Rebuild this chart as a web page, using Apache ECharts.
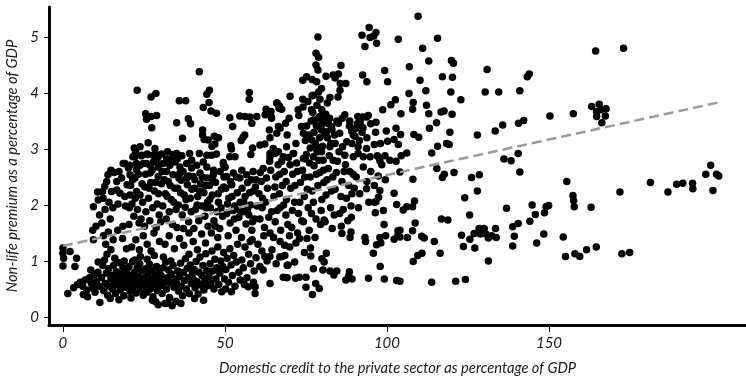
<!DOCTYPE html>
<html>
<head>
<meta charset="utf-8">
<script src="https://cdn.jsdelivr.net/npm/echarts@6/dist/echarts.min.js"></script>
<style>
html,body{margin:0;padding:0;background:#fff;}
#chart{width:746px;height:381px;}
</style>
</head>
<body>
<div id="chart"></div>
<script>
const xTicks = [0, 50, 100, 150];
const yTicks = [0, 1, 2, 3, 4, 5];

// low-premium band, credit 0-75
const lowBand = [
[0,1.23],[0,1.14],[0.2,1.05],[0,0.91],[2.2,1.17],[4.2,1.05],[3.7,0.9],[1.5,0.42],[4.5,0.58],[3.3,0.52],
[5.4,0.62],[6.1,0.55],[6.9,0.66],[7.4,0.48],[8.2,0.7],[8.8,0.6],[9.3,0.52],[9.7,0.75],[6.3,0.4],[8.6,0.84],[7.6,0.36],[9.9,0.44],
[10.3,0.63],[10.8,0.8],[11.2,0.55],[11.4,0.26],[11.9,0.7],[12.3,0.92],[12.6,0.47],[13.1,0.6],[13.4,0.78],[13.8,0.39],[14.1,0.86],[14.4,0.55],[14.8,0.68],[10.9,0.98],[12.8,1.02],[14.6,0.33],
[15.1,0.74],[15.3,0.5],[15.6,0.92],[15.9,0.62],[16.2,0.42],[16.5,0.81],[16.8,0.57],[17.1,0.69],[17.4,0.97],[17.7,0.48],[18,0.76],[18.3,0.6],[18.5,0.88],[18.8,0.38],[19.1,0.66],[19.4,0.53],[19.7,0.82],[19.9,0.71],[16,1.05],[18.9,1.0],[17.3,0.31],
[20.2,0.58],[20.4,0.9],[20.7,0.46],[20.9,0.74],[21.2,0.63],[21.5,0.99],[21.8,0.54],[22.1,0.8],[22.3,0.67],[22.6,0.43],[22.9,0.88],[23.2,0.59],[23.4,0.72],[23.7,0.95],[24,0.5],[24.3,0.83],[24.6,0.65],[24.8,0.39],[21,0.34],[23.9,1.08],[22.2,1.02],
[25.1,0.7],[25.3,0.55],[25.6,0.86],[25.9,0.44],[26.2,0.77],[26.4,0.62],[26.7,0.94],[27,0.5],[27.3,0.68],[27.5,0.83],[27.8,0.36],[28.1,0.58],[28.4,0.73],[28.6,0.27],[28.9,0.9],[29.2,0.47],[29.5,0.64],[29.7,0.8],[26,1.03],[28.2,1.1],[29.4,0.22],[27.6,0.3],
[30.1,0.56],[30.3,0.74],[30.6,0.42],[30.9,0.88],[31.2,0.62],[31.5,0.24],[31.7,0.98],[32,0.5],[32.3,0.7],[32.6,0.84],[32.9,0.35],[33.1,0.61],[33.4,0.77],[33.7,0.2],[34,0.92],[34.3,0.53],[34.6,0.68],[34.9,0.28],[31,1.07],[33.3,1.0],[32.4,0.25],
[35.1,0.6],[35.4,0.82],[35.7,0.46],[36,0.72],[36.3,0.96],[36.6,0.55],[36.9,0.38],[37.2,0.8],[37.5,0.65],[37.8,1.04],[38.1,0.5],[38.4,0.87],[38.7,0.7],[39,0.42],[39.3,0.93],[39.6,0.6],[39.9,0.77],[36.4,0.24],[38.9,1.12],
[40.2,0.68],[40.5,0.85],[40.8,0.52],[41.1,0.99],[41.4,0.63],[41.7,0.41],[42,0.8],[42.3,1.07],[42.6,0.57],[42.9,0.74],[43.2,0.92],[43.5,0.48],[43.8,0.66],[44.1,1.13],[44.4,0.83],[44.7,0.56],[40.6,0.33],[43.4,0.3],
[45.1,0.72],[45.4,0.95],[45.7,0.6],[46,1.18],[46.3,0.82],[46.6,0.5],[46.9,1.03],[47.2,0.68],[47.5,0.88],[47.8,1.25],[48.1,0.58],[48.4,0.78],[48.7,1.0],[49,0.45],[49.3,0.9],[49.6,1.15],[49.9,0.68],
[50.3,0.85],[50.7,1.05],[51.1,0.62],[51.5,1.22],[51.9,0.93],[52.3,0.74],[52.7,1.1],[53.1,0.55],[53.5,0.98],[53.9,1.3],[54.3,0.8],[54.7,0.66],[50.2,0.5],[52,0.45],
[55.2,1.02],[55.7,0.88],[56.2,1.25],[56.8,0.7],[57.3,1.12],[57.9,0.95],[58.4,1.38],[59,0.82],[59.6,1.06],[60.2,1.3],[60.8,0.9],[61.4,1.18],[62,1.45],[56,0.58],[58.8,0.62],
[63,1.0],[64.5,1.2],[65.8,0.95],[67,1.35],[68.5,1.1],[70,1.25],[71.5,0.98],[73,1.4],[74.5,1.15]
];

// sparse points between the two bands
const midGap = [
[12.5,1.45],[13.2,1.3],[14,1.52],[14.8,1.2],[15.5,1.38],[13.6,1.12],[21.2,1.25],[22.5,1.38],[23.6,1.2],[24.8,1.45],[26,1.3],[27.2,1.18],[28.1,1.5],
[31.5,1.3],[32.8,1.45],[34.4,1.22],[36,1.4],[37.3,1.28],[38.9,1.5],[40.2,1.35],[41.5,1.2],[42.8,1.48],[44,1.32],[9.2,1.55],[18.4,1.4],[19.6,1.22],[29.8,1.35],[9.4,1.38]
];

// upper band, credit 9-60
const upperBand = [
[9.4,1.97],[10.7,2.23],[10.9,2.09],[12.2,2.24],[12.4,2.12],[13.9,2.54],[13.5,2.42],[11.3,1.82],[12,1.68],[13,1.92],[14.2,2.05],[14.6,1.75],[10.2,1.62],[12.9,2.33],[14.8,2.62],
[15,2.24],[16.6,2.27],[17.6,2.21],[19.1,2.15],[18.6,2.74],[16.6,2.42],[18.1,2.48],[15.4,1.95],[17,2.02],[18.5,1.62],[19.3,1.98],[19.8,2.36],[15.8,2.58],[17.3,2.6],[16.9,1.55],
[20.2,2.66],[20.7,2.54],[22.7,2.63],[22.2,2.48],[20.7,2.18],[22.7,2.24],[23.8,2.18],[23.8,2.71],[24.4,2.38],[21.3,2.02],[21.9,1.8],[20.4,1.65],[23,1.92],[23.5,1.68],[24.6,2.05],[24.2,2.88],[21.6,2.86],[20.9,2.35],[22.4,2.95],
[25.8,2.74],[27.9,2.77],[29.4,2.68],[26.9,2.57],[29.4,2.51],[25.3,2.32],[26.4,2.12],[27.1,2.4],[28.2,2.25],[29.1,2.02],[25.6,1.88],[26.8,1.72],[27.7,1.95],[28.8,1.6],[29.7,1.82],[26.1,2.9],[28.5,2.92],[25.2,1.62],
[31,2.74],[33,2.71],[34.6,2.77],[32,2.6],[34,2.54],[30.4,2.38],[31.6,2.2],[32.5,2.42],[33.4,2.1],[34.5,2.3],[30.8,1.98],[31.9,1.75],[32.8,1.88],[33.8,1.65],[34.9,1.92],[30.2,1.7],[32.3,2.95],[33.9,2.9],
[36.1,2.68],[38.2,2.74],[39.7,2.66],[36.1,2.57],[38.2,2.48],[35.4,2.3],[36.5,2.44],[37.4,2.18],[38.4,2.36],[39.3,2.12],[35.6,2.0],[36.8,1.82],[37.7,1.96],[38.8,1.7],[39.6,1.88],[35.2,1.6],[37.2,1.58],[39.1,2.92],[36.7,2.88],
[41.3,2.71],[43.3,2.77],[44.4,2.68],[40.2,2.51],[42.3,2.57],[44.4,2.48],[40.6,2.3],[41.6,2.15],[42.5,2.38],[43.5,2.22],[44.6,2.05],[40.9,1.92],[41.9,1.72],[42.9,1.98],[43.8,1.8],[44.8,1.62],[40.4,1.58],
[46.4,2.54],[48.5,2.6],[45.2,2.35],[46.1,2.18],[47.1,2.4],[48,2.05],[48.9,2.28],[49.7,2.5],[45.5,1.95],[46.6,1.72],[47.5,1.88],[48.4,1.58],[49.3,1.8],[45.8,1.5],[47.8,1.42],[49.5,2.72],
[50.5,2.51],[52.6,2.57],[54.6,2.48],[50.3,2.3],[51.2,2.12],[52.1,2.36],[53,1.98],[53.8,2.22],[54.7,2.05],[50.6,1.85],[51.6,1.68],[52.5,1.9],[53.4,1.55],[54.3,1.78],[51,1.45],[50,2.68],
[56.7,2.54],[58.7,2.6],[55.3,2.3],[56.2,2.15],[57,2.4],[57.9,2.0],[58.8,2.25],[59.6,2.45],[55.6,1.88],[56.5,1.66],[57.4,1.82],[58.3,1.55],[59.2,1.75],[59.9,1.98],[55.1,1.42],[57.8,1.35],
[45.3,2.1],[46.2,2.45],[47,1.62],[47.9,2.2],[48.8,1.95],[49.6,2.32],[50.8,2.02],[51.7,2.42],[52.9,1.75],[53.6,2.5],[54.5,1.9],[55.8,2.05],[56.9,1.92],[57.6,2.22],[58.5,1.7],[59.4,2.32],[46.5,2.62],[52.2,2.15],[55.2,2.62],[58.1,2.45],
[20.5,1.95],[21.5,2.45],[22.3,2.12],[23.3,2.55],[24.1,1.75],[25.5,2.55],[26.6,2.3],[27.5,2.62],[28.6,2.4],[29.5,2.2],[30.6,2.6],[31.3,2.45],[32.2,2.15],[33.1,2.35],[34.2,2.05],
[35.8,2.48],[36.3,2.22],[37.1,2.6],[38,2.1],[38.9,2.52],[39.8,2.28],[40.7,2.45],[41.4,2.0],[42.2,2.25],[43,2.5],[43.9,2.35],[44.2,1.95],
[46,3.05],[52,3.0],[55,3.15],[58,2.9],[48,3.2]
];

// middle band, credit 60-100
const midBand = [
[60.5,2.2],[61.2,2.42],[61.8,2.65],[62.5,2.05],[63.1,2.3],[63.8,2.78],[64.4,1.88],[65.1,2.15],[65.7,2.5],[66.4,2.72],[67,1.95],[67.7,2.35],[68.3,2.6],[69,2.1],[69.6,2.85],
[60.8,1.75],[62.2,1.6],[63.9,1.5],[65.5,1.7],[67.2,1.55],[68.8,1.82],[69.9,1.45],[61.5,1.95],[64.7,2.95],[66.8,2.2],
[70.3,2.3],[70.9,2.55],[71.5,2.05],[72.1,2.75],[72.7,1.85],[73.3,2.4],[73.9,2.62],[74.5,2.15],[75.1,2.9],[75.7,1.95],[76.3,2.5],[76.9,2.25],[77.5,2.7],[78.1,1.75],[78.7,2.35],[79.3,2.58],[79.9,2.1],
[70.6,1.6],[72.4,1.5],[74.2,1.7],[76,1.55],[77.8,1.42],[79.5,1.65],[71.2,2.92],[74.8,2.82],[78.4,2.95],
[80.5,2.4],[81.2,2.18],[81.9,2.65],[82.6,1.95],[83.3,2.5],[84,2.28],[84.7,2.78],[85.4,1.85],[86.1,2.42],[86.8,2.6],[87.5,2.12],[88.2,2.35],[88.9,1.98],[89.6,2.55],
[80.9,1.7],[83.1,1.58],[85.9,1.62],[87.9,1.72],[82.2,2.88],[85.2,2.95],
[90.5,2.5],[91.6,2.2],[92.7,2.68],[93.8,2.42],[95,2.6],[96.1,2.35],[97.3,2.52],[98.4,2.72],[99.5,2.45],[91.2,1.95],[94.4,2.05],[98.9,1.9],
[60.9,2.58],[61.6,2.12],[62.8,2.48],[63.5,1.78],[64.1,2.62],[65.4,2.32],[66.1,1.9],[66.9,2.55],[67.5,2.78],[68.1,2.0],[68.9,2.42],[69.4,1.65],[70.1,2.72],[70.8,1.9],
[71.6,2.35],[72.3,2.6],[73.1,2.05],[73.7,1.72],[74.6,2.5],[75.4,2.28],[76.1,2.75],[76.7,1.85],[77.3,2.05],[78.2,2.55],[79,2.8],[79.7,1.9],[80.4,2.62],[81.5,2.45],
[82.9,2.25],[83.7,1.82],[84.4,2.58],[85.8,2.15],[86.5,1.92],[87.2,2.72],[88.5,2.6],[89.2,2.2],[65,1.42],[71.9,1.32],[75.3,1.4],[68.4,1.28]
];

// dense cluster around credit 75-95, premium 3-3.8
const denseCore = [
[77.5,3.3],[78.2,3.42],[78.9,3.55],[79.6,3.38],[80.2,3.5],[80.8,3.25],[79.2,3.2],[77.9,3.1],[78.6,2.98],[80.1,3.05],[81.6,3.2],[82.3,3.55],[83,3.35],[76.6,3.5],[75.9,3.25],
[77.1,3.65],[79.9,3.7],[78.4,3.78],[81.1,3.62],[82.7,3.1],[83.8,3.25],[84.5,3.5],[76.3,3.02],[74.8,3.15],[73.6,3.4],[72.8,3.6],[74.1,3.75],[75.6,3.85],[85.4,3.28],[86.2,3.55],
[88.5,3.5],[89.6,3.25],[90.8,3.45],[91.5,3.15],[92.6,3.38],[93.8,3.2],[95,3.45],[96.5,3.3],[98,3.1],[94.2,3.6]
];

// scattered high-premium points, credit 19-101
const upperScatter = [
[42.1,4.38],[22.9,4.05],[27.2,3.93],[28.7,3.99],[44.4,3.98],[45.2,4.05],[57.5,4.01],[57.5,3.89],[35.9,3.86],[37.9,3.86],[45.1,3.83],[25.5,3.63],[28.9,3.6],[27.2,3.58],[25.8,3.53],
[27.4,3.38],[43.3,3.74],[45.7,3.68],[47.4,3.64],[35.1,3.47],[38.7,3.54],[39.4,3.45],[51.5,3.56],[52.4,3.4],[54.6,3.59],[56.2,3.58],[57.7,3.57],[59.8,3.58],[58.3,3.46],
[62.7,3.71],[64.2,3.67],[62.4,3.61],[64.3,3.57],[66.1,3.82],[66.7,3.73],[43.1,3.34],[43.1,3.25],[43.6,3.17],[44.8,3.16],[46.7,3.23],[46.9,3.09],[36.9,3.19],[55.6,3.21],[56.1,3.25],
[51.8,3.06],[58.5,3.02],[63.7,3.34],[63.9,3.2],[66.5,3.4],[60.8,3.07],[62.3,3.09],[64.9,3.01],[65.4,2.92],[63.9,2.86],[66.5,2.95],[42.1,2.92],[44.4,2.89],[45.9,2.89],[47.4,2.91],
[49.5,2.76],[50,2.68],[51.5,2.86],[53.1,2.86],[35.1,2.92],[35.3,2.82],[33.5,2.82],[32,2.82],[39.7,2.8],[22,3.02],[23.8,3.04],[26.3,3.11],[28.4,3.01],[30.5,2.91],
[22.2,2.86],[24.3,2.89],[26,2.91],[27.9,2.89],[29.4,2.86],[19.1,2.74],[20.7,2.71],[22.7,2.74],[24.8,2.74],[26.9,2.71],[29.4,2.74],
[78.7,5.0],[78.1,4.71],[78.9,4.64],[78.1,4.5],[78.7,4.41],[85.8,4.49],[74,4.23],[75.2,4.29],[76.9,4.24],[78.3,4.2],[81.2,4.3],[83.4,4.32],[85,4.34],[84,4.27],[85.6,4.17],[87.3,4.17],
[79.8,4.08],[78.9,4.02],[77.3,3.96],[85.5,4.05],[84.9,3.93],[82.4,3.92],[70.1,3.94],[74,3.89],[76.9,3.95],[79.3,3.89],[66,3.82],[66.8,3.77],[67.5,3.71],[63.9,3.64],[64.4,3.55],
[72.6,3.7],[76.7,3.7],[81.6,3.82],[69.8,3.55],[68.7,3.46],[67,3.37],[66,3.28],[75.2,3.41],[77.3,3.52],[79.3,3.58],[80.9,3.61],[81.4,3.52],[81.9,3.45],[80.3,3.46],[78.8,3.4],
[79.8,3.34],[81.4,3.31],[82.9,3.4],[85,3.46],[87,3.61],[91,3.58],[92.5,3.57],[93.7,3.57],[91.7,3.49],[88.4,3.41],[89.1,3.32],[90.4,3.37],[91.9,3.41],[92.3,3.3],[90.1,3.23],
[74.2,3.28],[75.2,3.22],[69.2,3.25],[71.9,3.1],[69,3.04],[76.8,3.16],[78.1,3.04],[79.8,2.95],[82.4,3.04],[84,3.1],[86.3,3.04],[87.6,3.13],[89.2,3.1],[91.1,3.04],[93.7,3.01],
[87,2.89],[89.6,2.86],[91.1,2.92],[92.7,2.86],[94.8,2.86],[97.3,2.86],[99.4,2.88],[63.9,2.92],[68,2.86],[71.1,2.92],[74.2,2.83],[77.3,2.86],[80.3,2.8],[83.4,2.8],
[94.5,5.17],[92.3,5.03],[94.8,4.99],[96.6,5.08],[95.9,5.02],[96.8,4.89],[93.2,4.83],[99.3,4.4],[92.5,4.32],[93.8,4.2],[100.2,4.2],[98.7,3.7],[96.6,3.48],[99.8,3.32],[100.2,3.14],
[96.1,3.08],[97,2.88],[97.8,2.79]
];

// sparse points below the middle band, credit 57-104
const midSparse = [
[89.9,2.3],[93.7,2.29],[97.8,2.26],[97.4,2.14],[96.6,2.06],[96.1,2.05],[102.2,2.21],[103,2.01],[96.4,1.86],[89,1.78],[80.6,1.73],[99.1,1.65],[86.1,1.49],[88.9,1.52],[88.6,1.42],
[93.2,1.42],[93.4,1.35],[97.8,1.42],[99.6,1.45],[96.8,1.29],[98.1,1.32],[102.2,1.39],[103.4,1.54],[103.3,1.45],[95.8,1.14],[97.9,0.9],[94.3,0.69],[99.2,0.68],[103,0.65],
[76.4,1.23],[76.5,1.09],[79.9,1.04],[80.6,0.98],[81.3,1.14],[80.2,0.84],[82.4,0.82],[84.5,0.82],[83.6,0.75],[77.3,0.86],[88.4,0.81],[89.2,0.68],[87.3,0.66],[88.2,0.73],
[68,0.71],[69.2,0.7],[71.8,0.69],[72.9,0.71],[75,0.71],[75,0.53],[78,0.6],[79.1,0.51],[77,0.4],[69.2,0.92],[63.9,1.08],[66.9,1.07],[67.7,1.08],[63.9,0.6],[62.3,1.08],
[69.5,0.93],[61.8,0.84],[57.2,0.54],[59.3,0.54],[59.3,0.42]
];

// right tail, credit above 100
const rightTail = [
[104.4,2.88],[106.1,2.93],[113.8,2.93],[115.6,3.05],[118.4,3.1],[119.2,3.08],[104,2.59],[108,2.46],[115.4,2.65],[117.1,2.49],[117.7,2.55],[120.7,2.58],[126.1,2.49],[128.5,2.54],
[127.9,2.25],[124,2.13],[105,1.91],[106.1,1.97],[107.9,1.97],[108.5,2.07],[125.5,1.82],[116.8,1.75],[118.8,1.73],[108.7,1.68],[104,1.55],[107.9,1.54],[106.3,1.42],[104,1.43],
[110.7,1.44],[111.5,1.41],[114.6,1.35],[123,1.46],[125.6,1.39],[126.9,1.49],[128.4,1.58],[130,1.58],[128.8,1.48],[130.5,1.48],[131.3,1.41],[132.3,1.45],[133.5,1.58],[133.7,1.42],
[123.6,1.26],[127.1,1.23],[116.4,1.14],[109.5,1.1],[110.8,1.14],[108.1,0.99],[131.3,1.0],[113.8,0.62],[121.2,0.64],[124.2,0.67],[104,0.64],
[164.4,4.75],[173,4.8],[143.9,4.34],[143.3,4.29],[141,4.04],[135.7,3.43],[140.6,3.46],[142.2,3.51],[150.3,3.59],[157.5,3.63],[163.2,3.76],[165.5,3.8],[167.6,3.72],[164.7,3.67],
[166,3.7],[167.4,3.59],[164.7,3.58],[166.3,3.47],[140.5,2.92],[136.1,2.82],[138.3,2.79],[199.9,2.71],[141,2.59],[155.5,2.42],[157.4,2.17],[157.6,2.08],[157.8,1.97],[163,1.96],
[171.9,2.23],[181.3,2.4],[186.7,2.23],[189.4,2.37],[191.3,2.39],[194.3,2.39],[194.4,2.29],[198.4,2.55],[201.7,2.55],[202.4,2.52],[200.6,2.26],[136.9,1.94],[144.8,2.0],[145.8,1.83],
[144.1,1.71],[148.6,1.86],[149.1,1.97],[149.9,1.99],[138.8,1.61],[140.5,1.67],[139.3,1.44],[138.8,1.27],[146.2,1.32],[148.4,1.48],[154.4,1.43],[155.1,1.08],[158,1.13],[159.5,1.08],
[161.6,1.2],[164.6,1.25],[172.5,1.13],[174.9,1.15],
[109.6,5.37],[103.5,4.96],[115.6,4.98],[111,4.8],[112.9,4.57],[119.9,4.58],[120.5,4.53],[106.9,4.47],[110.2,4.23],[117.1,4.29],[120.2,4.28],[130.9,4.42],[130.3,4.02],[134.5,4.02],
[112,4.04],[119.7,4.02],[122.8,3.88],[106.8,3.99],[108.1,3.83],[107.9,3.71],[112.2,3.78],[112.9,3.63],[102.6,3.88],[101.2,3.79],[104.3,3.63],[116.7,3.66],[117.6,3.68],[120.1,3.62],
[115.3,3.47],[102.8,3.37],[104.2,3.26],[108.3,3.26],[109.8,3.21],[113.1,3.37],[119.4,3.3],[102.2,3.17],[103.5,3.08],[127.9,3.25],[133.4,3.32],[100.9,2.8],[102.8,2.78]
];

// fitted line end points
const trendLine = [[0, 1.27], [203, 3.84]];

let myChart = echarts.init(document.getElementById('chart'));
let points = [].concat(lowBand, midGap, upperBand, midBand, denseCore, upperScatter, midSparse, rightTail);
let labelFont = {fontFamily: 'Lato', fontStyle: 'italic', fontSize: 15, color: '#1a1a1a'};
let nameFont = {fontFamily: 'Lato', fontStyle: 'italic', fontSize: 14.7, color: '#1a1a1a'};
let option = {
	animation: false,
	grid: {left: 49, right: 0, top: 7, bottom: 56, outerBoundsMode: 'none', containLabel: false},
	xAxis: {
		type: 'value',
		min: -4.3,
		max: 210.8,
		name: 'Domestic credit to the private sector as percentage of GDP',
		nameLocation: 'middle',
		nameGap: 36,
		nameTextStyle: nameFont,
		axisLine: {show: true, onZero: false, lineStyle: {color: '#000', width: 3}},
		axisTick: {show: true, length: 7, customValues: xTicks, lineStyle: {color: '#000', width: 1}},
		axisLabel: Object.assign({customValues: xTicks, margin: 11}, labelFont),
		splitLine: {show: false}
	},
	yAxis: {
		type: 'value',
		min: -0.143,
		max: 5.536,
		name: 'Non-life premium as a percentage of GDP',
		nameLocation: 'middle',
		nameGap: 29,
		nameTextStyle: nameFont,
		axisLine: {show: true, onZero: false, lineStyle: {color: '#000', width: 3}},
		axisTick: {show: true, length: 5, customValues: yTicks, lineStyle: {color: '#000', width: 1}},
		axisLabel: Object.assign({customValues: yTicks, margin: 10}, labelFont),
		splitLine: {show: false}
	},
	series: [
		{
			type: 'scatter',
			data: points,
			symbolSize: 7.5,
			itemStyle: {color: '#000', opacity: 1},
			z: 2
		},
		{
			type: 'line',
			data: trendLine,
			symbol: 'none',
			lineStyle: {color: '#9a9a9a', width: 2.5, type: [10, 5]},
			z: 3
		}
	]
};
myChart.setOption(option);
</script>
</body>
</html>
